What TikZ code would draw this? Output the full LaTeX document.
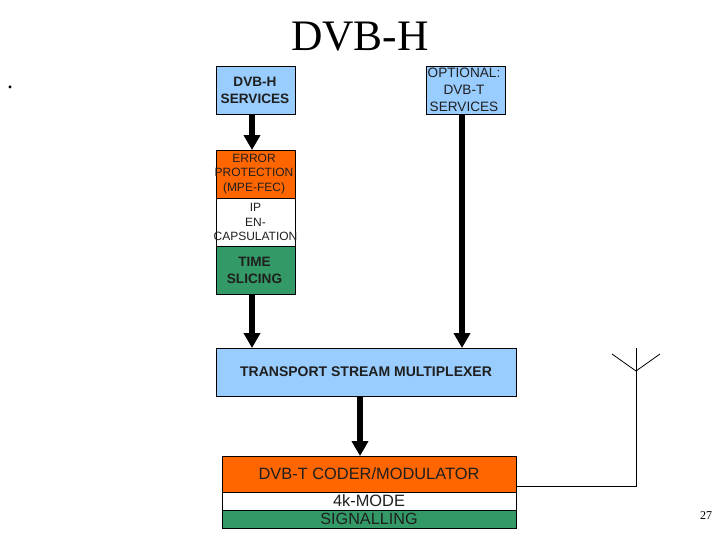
\documentclass[tikz,border=0pt]{standalone}
\usepackage{fontspec}
\setmainfont{Liberation Sans}
\newfontfamily\serifface{Liberation Serif}
\usetikzlibrary{arrows.meta}
\definecolor{bluebox}{HTML}{99CCFF}
\definecolor{orangebox}{HTML}{FF6600}
\definecolor{greenbox}{HTML}{339966}
\newcommand{\fs}[1]{\fontsize{#1}{#1}\selectfont}
\newcommand{\boxline}[1]{\makebox[79pt][c]{#1}}
\tikzset{
  x=1pt,y=-1pt,
  box/.style={draw=black,line width=0.9pt,inner sep=0pt,align=center,text=black!88},
  narrow/.style={box,text width=79pt,minimum height=48pt},
  smallbold/.style={font=\fontsize{13.6}{17}\selectfont\bfseries},
  fat/.style={line width=5.5pt,-{Triangle[length=15pt,width=16pt]},shorten >=-0.5pt},
  thin line/.style={line width=0.8pt,draw=black}
}
\begin{document}
\begin{tikzpicture}
\useasboundingbox[fill=white] (0,0) rectangle (720,540);
\node[font=\serifface\fontsize{43.5}{43.5}\selectfont,anchor=center] (title) at (360,37) {DVB-H};
\node[font=\serifface\fontsize{24}{24}\selectfont,anchor=center] (dot) at (10,87) {.};
\node[narrow,fill=bluebox,smallbold] (svc) at (255.5,90) {\boxline{\hspace{-1pt}DVB-H}\\\boxline{\hspace{-1pt}SERVICES}};
\node[narrow,fill=bluebox,font=\fontsize{13.6}{17}\selectfont] (opt) at (466,90) {\boxline{\hspace{-4pt}OPTIONAL:}\\\boxline{\hspace{-4pt}DVB-T}\\\boxline{\hspace{-4pt}SERVICES}};
\node[narrow,fill=orangebox,font=\fontsize{12}{14.5}\selectfont] (err) at (255.5,174) {\boxline{\hspace{-3pt}ERROR}\\\boxline{\hspace{-3pt}PROTECTION}\\\boxline{\hspace{-3pt}(MPE-FEC)}};
\node[narrow,fill=white,font=\fontsize{12}{14.3}\selectfont] (ip) at (255.5,222) {\boxline{IP}\\\boxline{EN-}\\\boxline{CAPSULATION}};
\node[narrow,fill=greenbox,smallbold] (time) at (255.5,270) {\boxline{\hspace{-2pt}TIME}\\\boxline{\hspace{-2pt}SLICING}};
\node[box,fill=bluebox,minimum width=300pt,minimum height=48pt,font=\fontsize{14}{15}\selectfont\bfseries] (ts) at (366,372) {TRANSPORT STREAM MULTIPLEXER};
\node[box,fill=orangebox,minimum width=294pt,minimum height=36pt,font=\fs{16.4}] (coder) at (369,474) {DVB-T CODER/MODULATOR};
\node[box,fill=white,minimum width=294pt,minimum height=18pt,font=\fs{16.4}] (mode) at (369,501) {4k-MODE};
\node[box,fill=greenbox,minimum width=294pt,minimum height=18pt,font=\fs{16.2}] (sig) at (369,519) {SIGNALLING};
\node[font=\serifface\fontsize{12}{12}\selectfont] (page) at (706,516) {27};
\coordinate (feed) at (636,371);
\coordinate (top) at (636,348);
\coordinate (left) at (612,354);
\coordinate (right) at (660,354);
\coordinate (corner) at (636,486);
\draw[fat] (svc.south -| 252,0) -- (err.north -| 252,0);
\draw[fat] (time.south -| 252,0) -- (ts.north -| 252,0);
\draw[fat] (opt.south -| 462,0) -- (ts.north -| 462,0);
\draw[fat] (ts.south -| 360,0) -- (coder.north -| 360,0);
\draw[thin line] (coder.east |- corner) -- (corner) -- (top);
\draw[thin line] (left) -- (feed) -- (right);
\end{tikzpicture}
\end{document}
